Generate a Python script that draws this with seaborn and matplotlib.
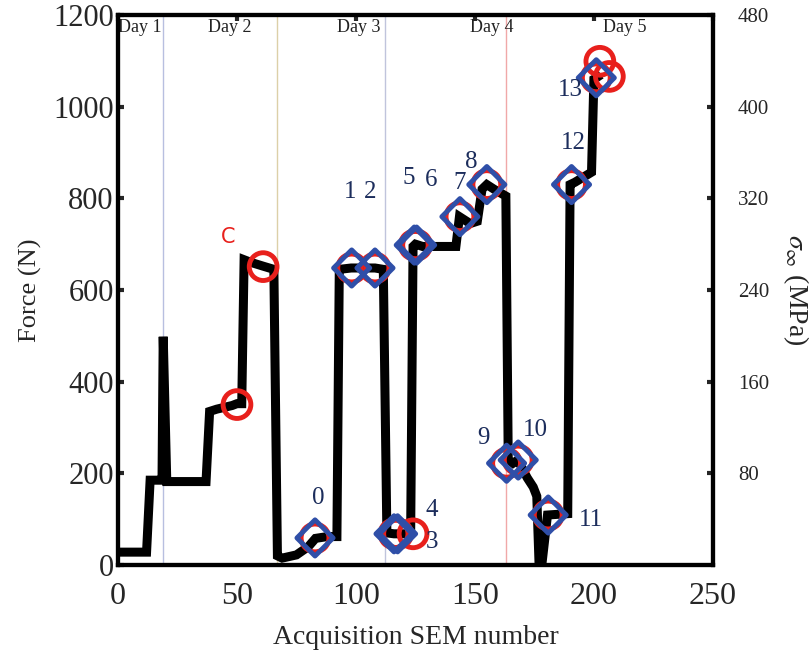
import matplotlib
matplotlib.use('Agg')
import matplotlib.pyplot as plt
import seaborn as sns
import pandas as pd

# force history (SEM acquisition number vs force)
sem = [0, 12, 13.5, 17, 18.5, 19, 20.5, 37, 38.5, 41.5, 48, 50, 52, 53, 56, 61, 65.5,
       67, 69, 75, 80, 83, 88, 92, 93, 98, 108, 111.5, 113, 116, 121, 123, 124, 125,
       128, 142, 143.5, 148, 151, 153, 155, 158, 163, 164, 166, 168, 172, 174.5, 176,
       177, 178, 180.5, 189, 190, 192, 199, 200, 201, 203]
force = [28, 28, 185, 185, 185, 498, 182, 182, 335, 340, 348, 352, 352, 666, 660, 652, 645,
         20, 15, 22, 40, 58, 62, 62, 645, 648, 648, 645, 70, 68, 68, 75, 695, 700,
         695, 695, 760, 745, 750, 820, 830, 820, 805, 230, 222, 229, 190, 170, 150,
         -5, -5, 109, 112, 830, 835, 857, 1060, 1063, 1070]

# numbered observation points (blue diamonds)
pt_labels = ['0', '1', '2', '3', '4', '5', '6', '7', '8', '9', '10', '11', '12', '13']
pt_sem = [82.8, 98.2, 108, 116, 117.5, 124.5, 125.5, 143.7, 155, 163.3, 168.2, 180.8, 190.6, 201]
pt_force = [59, 648, 648, 68, 68, 698, 698, 760, 830, 222, 229, 109, 830, 1063]
# label anchor positions
lab_sem = [84, 97.5, 106, 132, 132, 122.3, 131.5, 143.7, 148.3, 153.4, 175.2, 198.7, 191.2, 190]
lab_force = [146, 814, 814, 50, 120, 845, 840, 834, 880, 277, 295, 98, 921, 1037]

# red circles (crack observations)
crk_sem = [50, 61, 124, 202.5, 206.5] + pt_sem
crk_force = [350, 651, 68, 1099, 1066] + pt_force

# day boundaries
day_names = ['Day 1', 'Day 2', 'Day 3', 'Day 4', 'Day 5']
day_label_sem = [9, 47, 101, 157, 213]
day_lines = [19, 67, 112, 163]
day_colors = ['#b8bfe0', '#dcd0a8', '#c0c4dc', '#f0a8a8']

sns.set_style('white')
plt.rcParams['font.family'] = ['Liberation Serif', 'DejaVu Serif']
plt.rcParams['mathtext.fontset'] = 'stix'

fig = plt.figure(figsize=(8.11, 6.53), dpi=100)
ax = fig.add_axes([0.1455, 0.1348, 0.7335, 0.8422])

for x, c in zip(day_lines, day_colors):
    ax.axvline(x, color=c, lw=1, zorder=0)
for name, x in zip(day_names, day_label_sem):
    ax.text(x, 1172, name, ha='center', va='center', fontsize=13, color='#222222')

df = pd.DataFrame({'sem': sem, 'force': force})
sns.lineplot(data=df, x='sem', y='force', sort=False, estimator=None,
             color='black', lw=6.5, ax=ax, zorder=2,
             solid_joinstyle='miter', solid_capstyle='butt')

sns.scatterplot(x=crk_sem, y=crk_force, marker='o', s=400, facecolor='none',
                edgecolor='#e8201c', linewidth=3.5, ax=ax, zorder=3)
sns.scatterplot(x=pt_sem, y=pt_force, marker='D', s=340, facecolor='none',
                edgecolor='#2f4fa8', linewidth=3.5, ax=ax, zorder=4)

for t, x, y in zip(pt_labels, lab_sem, lab_force):
    ax.text(x, y, t, ha='center', va='center', fontsize=18, color='#1c2d5c', zorder=5)
ax.text(46.2, 716, 'C', ha='center', va='center', fontsize=15, color='#e8201c',
        family=['DejaVu Sans'])

ax.set_xlim(0, 250)
ax.set_ylim(0, 1200)
ax.set_xticks([0, 50, 100, 150, 200, 250])
ax.set_yticks([0, 200, 400, 600, 800, 1000, 1200])
ax.tick_params(direction='in', length=4, width=3, labelsize=22, pad=3, top=True)
ax.tick_params(axis='x', labelsize=23, pad=12)
ax.set_xlabel('Acquisition SEM number', fontsize=20, labelpad=10)
ax.set_ylabel('Force (N)', fontsize=19, labelpad=8)
for sp in ax.spines.values():
    sp.set_linewidth(3)
    sp.set_color('black')

ax2 = ax.twinx()
ax2.set_ylim(0, 480)
ax2.set_yticks([80, 160, 240, 320, 400, 480])
ax2.tick_params(direction='in', length=4, width=3, labelsize=15, pad=18)
ax2.set_ylabel(r'$\sigma_\infty$ (MPa)', fontsize=20, rotation=270, labelpad=30)
for sp in ax2.spines.values():
    sp.set_linewidth(3)
    sp.set_color('black')

fig.savefig('out.png', dpi=100)
